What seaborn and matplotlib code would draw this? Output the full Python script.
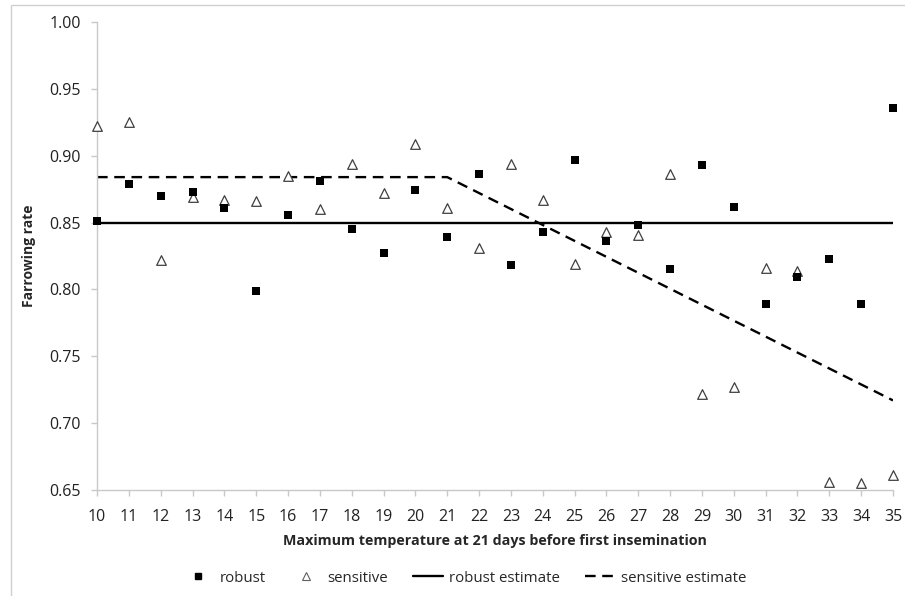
import matplotlib
matplotlib.use("Agg")
import matplotlib.pyplot as plt
from matplotlib.lines import Line2D
from matplotlib.patches import Rectangle
import seaborn as sns
import pandas as pd

# Maximum temperature (°C) 21 days before first insemination
temperature = list(range(10, 36))

# Observed farrowing rates per temperature
robust = [0.851, 0.879, 0.870, 0.873, 0.861, 0.799, 0.856, 0.881, 0.845, 0.827,
          0.874, 0.839, 0.886, 0.818, 0.843, 0.897, 0.836, 0.848, 0.815, 0.893,
          0.862, 0.789, 0.809, 0.823, 0.789, 0.936]
sensitive = [0.922, 0.925, 0.822, 0.869, 0.867, 0.866, 0.885, 0.860, 0.894, 0.872,
             0.909, 0.861, 0.831, 0.894, 0.867, 0.819, 0.843, 0.841, 0.886, 0.722,
             0.727, 0.816, 0.814, 0.656, 0.655, 0.661]

# Fitted estimates (breakpoints of the piecewise-linear models)
robust_est_x = [10, 35]
robust_est_y = [0.850, 0.850]
sensitive_est_x = [10, 21, 35]
sensitive_est_y = [0.884, 0.884, 0.717]

y_ticks = [0.65, 0.70, 0.75, 0.80, 0.85, 0.90, 0.95, 1.00]

sns.set_theme(style="white")
plt.rcParams["font.family"] = ["Open Sans", "DejaVu Sans"]

fig = plt.figure(figsize=(9.05, 5.96), dpi=100)
ax = fig.add_axes([97 / 905, 1 - 490 / 596, (893 - 97) / 905, (490 - 22) / 596])

# outer chart-area frame
fig.patches.append(Rectangle((11 / 905, -0.1), 1.2, 1 - 5 / 596 + 0.1,
                             transform=fig.transFigure, fill=False,
                             edgecolor="#d0d0d0", linewidth=1.0, zorder=0))

df_pts = pd.DataFrame({"temp": temperature, "robust": robust, "sensitive": sensitive})

sns.lineplot(x=robust_est_x, y=robust_est_y, ax=ax, color="black",
             linewidth=1.7, zorder=2)
sns.lineplot(x=sensitive_est_x, y=sensitive_est_y, ax=ax, color="black",
             linewidth=1.7, zorder=2)
ax.lines[-1].set_dashes((4.5, 2.8))

sns.scatterplot(data=df_pts, x="temp", y="sensitive", ax=ax, marker="^", s=48,
                facecolor="white", edgecolor="#404040", linewidth=0.9, zorder=3)
sns.scatterplot(data=df_pts, x="temp", y="robust", ax=ax, marker="s", s=40,
                color="black", edgecolor="black", linewidth=0, zorder=4)
for coll in ax.collections:
    coll.set_clip_on(False)

ax.set_xlim(10, 35)
ax.set_ylim(0.65, 1.00)
ax.set_xticks(temperature)
ax.set_xticklabels([str(t) for t in temperature])
ax.set_yticks(y_ticks)
ax.set_yticklabels([f"{v:.2f}" for v in y_ticks])

for side in ("top", "right"):
    ax.spines[side].set_visible(False)
for side in ("left", "bottom"):
    ax.spines[side].set_color("#c8c8c8")
    ax.spines[side].set_linewidth(1.0)

ax.tick_params(axis="both", which="major", direction="out", length=4,
               width=1.0, color="#c8c8c8", labelsize=11.5, labelcolor="#222222",
               bottom=True, left=True)
ax.tick_params(axis="x", pad=9.5)
ax.tick_params(axis="y", pad=7.5)

ax.set_xlabel("Maximum temperature at 21 days before first insemination",
              fontsize=10.3, fontweight="bold", labelpad=6.5)
ax.set_ylabel("Farrowing rate", fontsize=10, fontweight="bold", labelpad=9.5)

handles = [
    Line2D([], [], linestyle="none", marker="s", markersize=5, color="black"),
    Line2D([], [], linestyle="none", marker="^", markersize=6,
           markerfacecolor="white", markeredgecolor="#606060", markeredgewidth=0.8),
    Line2D([], [], color="black", linewidth=1.7),
    Line2D([], [], color="black", linewidth=1.7, dashes=(4.5, 2.8)),
]
labels = ["robust", "sensitive", "robust estimate", "sensitive estimate"]
if ax.get_legend() is not None:
    ax.get_legend().remove()
fig.legend(handles, labels, loc="center", bbox_to_anchor=(465 / 905, 1 - 578 / 596),
           ncol=4, frameon=False, fontsize=10.8, handlelength=2.0,
           columnspacing=1.7, handletextpad=0.4)

fig.savefig("out.png", dpi=100)
